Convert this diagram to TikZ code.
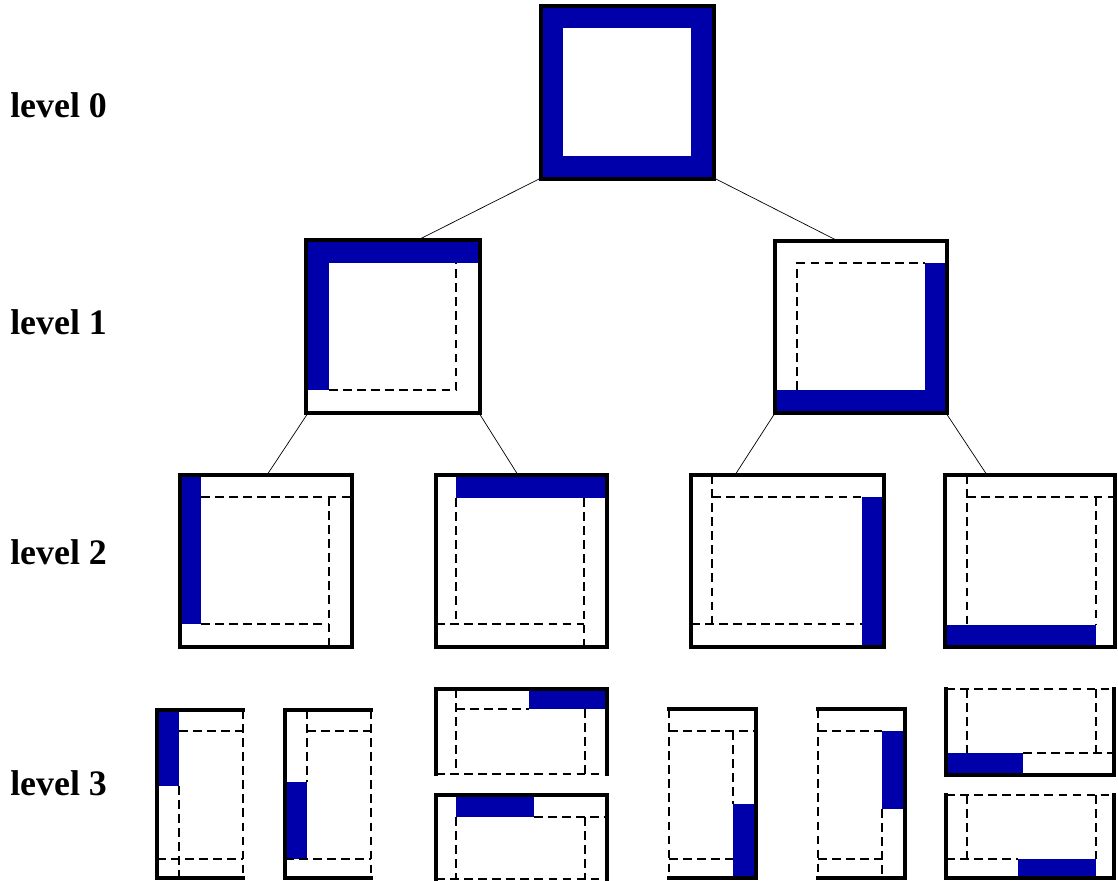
\documentclass[tikz,border=0pt]{standalone}
\usepackage{fontspec}
\setmainfont{Liberation Serif}
\usepackage{xcolor}
\definecolor{band}{RGB}{0,0,170}

\begin{document}
\begin{tikzpicture}[x=0.025cm, y=-0.025cm,
    frame/.style={line width=2.5pt, line join=miter, line cap=rect},
    cut/.style={line width=0.8pt, dash pattern=on 6.2pt off 3.8pt},
    link/.style={line width=0.5pt},
    levellabel/.style={anchor=west, font=\fontsize{25.5}{30}\selectfont\bfseries, inner sep=0pt}]
  \useasboundingbox (0,0) rectangle (1118,881);

  % Level labels
  \foreach \y/\lab in {105/0, 322/1, 552/2, 783/3} {
    \node[levellabel] (lvl\lab) at (10,\y) {level \lab};
  }

  % Connector end points
  \coordinate (r0a) at (541,178);  \coordinate (r0b) at (714,178);
  \coordinate (l1a) at (418,240);  \coordinate (l1b) at (836,240);
  \coordinate (r1a) at (308,413);  \coordinate (r1b) at (479,413);
  \coordinate (r1c) at (775,413);  \coordinate (r1d) at (946,413);
  \coordinate (l2a) at (267,475);  \coordinate (l2b) at (518,475);
  \coordinate (l2c) at (735,475);  \coordinate (l2d) at (987,475);

  % Connectors
  \draw[link] (r0a) -- (l1a);
  \draw[link] (r0b) -- (l1b);
  \draw[link] (r1a) -- (l2a);
  \draw[link] (r1b) -- (l2b);
  \draw[link] (r1c) -- (l2c);
  \draw[link] (r1d) -- (l2d);

  % Level 0: full frame
  \fill[band] (541,6) rectangle (714,179);
  \fill[white] (563,28) rectangle (691,156);
  \draw[frame] (541,6) rectangle (714,179);

  % Level 1, left: top and left bands
  \fill[band] (306,240) rectangle (480,263);
  \fill[band] (306,240) rectangle (329,390);
  \draw[cut] (329,390) -- (456,390) -- (456,263);
  \draw[frame] (306,240) rectangle (480,413);

  % Level 1, right: right and bottom bands
  \fill[band] (925,263) rectangle (947,413);
  \fill[band] (775,390) rectangle (947,413);
  \draw[cut] (797,390) -- (797,263) -- (925,263);
  \draw[frame] (775,241) rectangle (947,413);

  % Level 2
  % left band
  \fill[band] (180,475) rectangle (201,624);
  \draw[cut] (201,497) -- (352,497);
  \draw[cut] (329,497) -- (329,647);
  \draw[cut] (201,624) -- (329,624);
  \draw[frame] (180,475) rectangle (352,647);
  % top band
  \fill[band] (456,475) rectangle (607,498);
  \draw[cut] (456,498) -- (456,624);
  \draw[cut] (584,498) -- (584,647);
  \draw[cut] (436,624) -- (584,624);
  \draw[frame] (436,475) rectangle (607,647);
  % right band
  \fill[band] (862,497) rectangle (884,647);
  \draw[cut] (712,475) -- (712,624);
  \draw[cut] (712,497) -- (862,497);
  \draw[cut] (691,624) -- (862,624);
  \draw[frame] (691,475) rectangle (884,647);
  % bottom band
  \fill[band] (945,625) rectangle (1096,647);
  \draw[cut] (967,475) -- (967,625);
  \draw[cut] (967,497) -- (1115,497);
  \draw[cut] (1096,497) -- (1096,625);
  \draw[frame] (945,475) rectangle (1115,647);

  % Level 3
  % left band, upper half
  \fill[band] (157,710) rectangle (179,786);
  \draw[cut] (179,731) -- (243,731);
  \draw[cut] (179,786) -- (179,878);
  \draw[cut] (157,859) -- (243,859);
  \draw[cut] (243,710) -- (243,878);
  \draw[frame] (243,710) -- (157,710) -- (157,878) -- (243,878);
  % left band, lower half
  \fill[band] (285,782) rectangle (307,859);
  \draw[cut] (307,710) -- (307,782);
  \draw[cut] (307,731) -- (371,731);
  \draw[cut] (285,859) -- (371,859);
  \draw[cut] (371,710) -- (371,878);
  \draw[frame] (371,710) -- (285,710) -- (285,878) -- (371,878);
  % top band, right half
  \fill[band] (529,689) rectangle (607,709);
  \draw[cut] (456,689) -- (456,774);
  \draw[cut] (456,709) -- (529,709);
  \draw[cut] (585,709) -- (585,774);
  \draw[cut] (436,774) -- (607,774);
  \draw[frame] (436,774) -- (436,689) -- (607,689) -- (607,774);
  % top band, left half
  \fill[band] (456,795) rectangle (534,817);
  \draw[cut] (534,817) -- (607,817);
  \draw[cut] (456,817) -- (456,880);
  \draw[cut] (585,817) -- (585,880);
  \draw[cut] (436,879) -- (607,879);
  \draw[frame] (436,880) -- (436,795) -- (607,795) -- (607,880);
  % right band, lower half
  \fill[band] (733,804) rectangle (756,878);
  \draw[cut] (669,731) -- (756,731);
  \draw[cut] (733,731) -- (733,804);
  \draw[cut] (669,859) -- (733,859);
  \draw[cut] (669,709) -- (669,878);
  \draw[frame] (669,709) -- (756,709) -- (756,878) -- (669,878);
  % right band, upper half
  \fill[band] (882,731) rectangle (905,809);
  \draw[cut] (818,731) -- (882,731);
  \draw[cut] (882,809) -- (882,878);
  \draw[cut] (818,859) -- (882,859);
  \draw[cut] (818,709) -- (818,878);
  \draw[frame] (818,709) -- (905,709) -- (905,878) -- (818,878);
  % bottom band, left half
  \fill[band] (946,753) rectangle (1023,775);
  \draw[cut] (1023,753) -- (1114,753);
  \draw[cut] (967,689) -- (967,753);
  \draw[cut] (1096,689) -- (1096,753);
  \draw[cut] (946,689) -- (1114,689);
  \draw[frame] (946,689) -- (946,775) -- (1114,775) -- (1114,689);
  % bottom band, right half
  \fill[band] (1018,859) rectangle (1096,878);
  \draw[cut] (946,859) -- (1018,859);
  \draw[cut] (967,795) -- (967,859);
  \draw[cut] (1096,795) -- (1096,859);
  \draw[cut] (946,795) -- (1114,795);
  \draw[frame] (946,795) -- (946,878) -- (1114,878) -- (1114,795);

\end{tikzpicture}
\end{document}
